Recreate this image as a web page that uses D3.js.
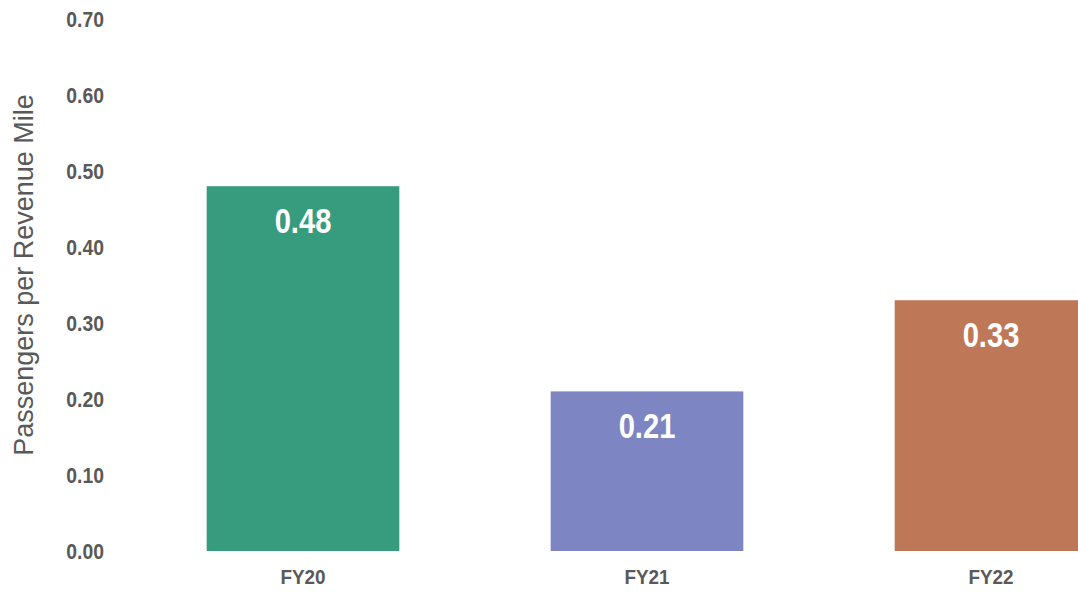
<html>
<head>
<style>
    body { margin: 0; background: #fff; }
    svg { display: block; }
    .tick text {
        font-family: 'Liberation Sans Narrow', 'Arial Narrow', 'Liberation Sans', sans-serif;
        font-weight: bold;
        fill: #595959;
    }
    .domain, .tick line { display: none; }
</style>
</head>
<body>
<svg width="1078" height="596"></svg>
<script src="https://d3js.org/d3.v7.min.js"></script>
<script>
    let categories = ["FY20", "FY21", "FY22"]
    let values = [0.48, 0.21, 0.33]
    let colors = ["#379b7e", "#7d85c3", "#be7858"]
    let yTicks = [0, 0.1, 0.2, 0.3, 0.4, 0.5, 0.6, 0.7]

    let svg = d3.select("svg")

    let x = d3.scaleBand()
        .domain(categories)
        .range([131, 1163])
        .paddingInner(0.44)
        .paddingOuter(0.22)

    let y = d3.scaleLinear()
        .domain([0, 0.7])
        .range([551, 19])

    // no narrow font installed, so squeeze the bold sans a bit
    svg.append("g")
        .attr("class", "y axis")
        .attr("transform", "translate(104, 0)")
        .call(d3.axisLeft(y).tickValues(yTicks).tickFormat(d3.format(".2f")).tickSize(0).tickPadding(0))
        .selectAll("text")
        .style("font-size", "22px")
        .attr("dy", "0.35em")
        .attr("transform", "scale(0.88,1)")

    svg.append("g")
        .attr("class", "x axis")
        .attr("transform", "translate(0, 551)")
        .call(d3.axisBottom(x).tickSize(0).tickPadding(18))
        .selectAll("text")
        .style("font-size", "21px")
        .attr("transform", "scale(0.9,1)")

    svg.append("text")
        .attr("transform", "translate(33, 275) rotate(-90)")
        .attr("text-anchor", "middle")
        .style("font-family", "'Liberation Sans', Arial, sans-serif")
        .style("font-size", "27px")
        .style("fill", "#595959")
        .text("Passengers per Revenue Mile")

    svg.append("g")
        .selectAll("rect")
        .data(values)
        .join("rect")
        .attr("x", (d, i) => x(categories[i]))
        .attr("width", x.bandwidth())
        .attr("y", d => y(d))
        .attr("height", d => y(0) - y(d))
        .style("fill", (d, i) => colors[i])

    svg.append("g")
        .selectAll("text")
        .data(values)
        .join("text")
        .attr("transform", (d, i) => `translate(${x(categories[i]) + x.bandwidth() / 2}, ${y(d) + 47}) scale(0.81,1)`)
        .attr("text-anchor", "middle")
        .style("font-family", "'Liberation Sans Narrow', 'Arial Narrow', sans-serif")
        .style("font-weight", "bold")
        .style("font-size", "36px")
        .style("fill", "#fff")
        .text(d => d3.format(".2f")(d))
</script>
</body>
</html>
